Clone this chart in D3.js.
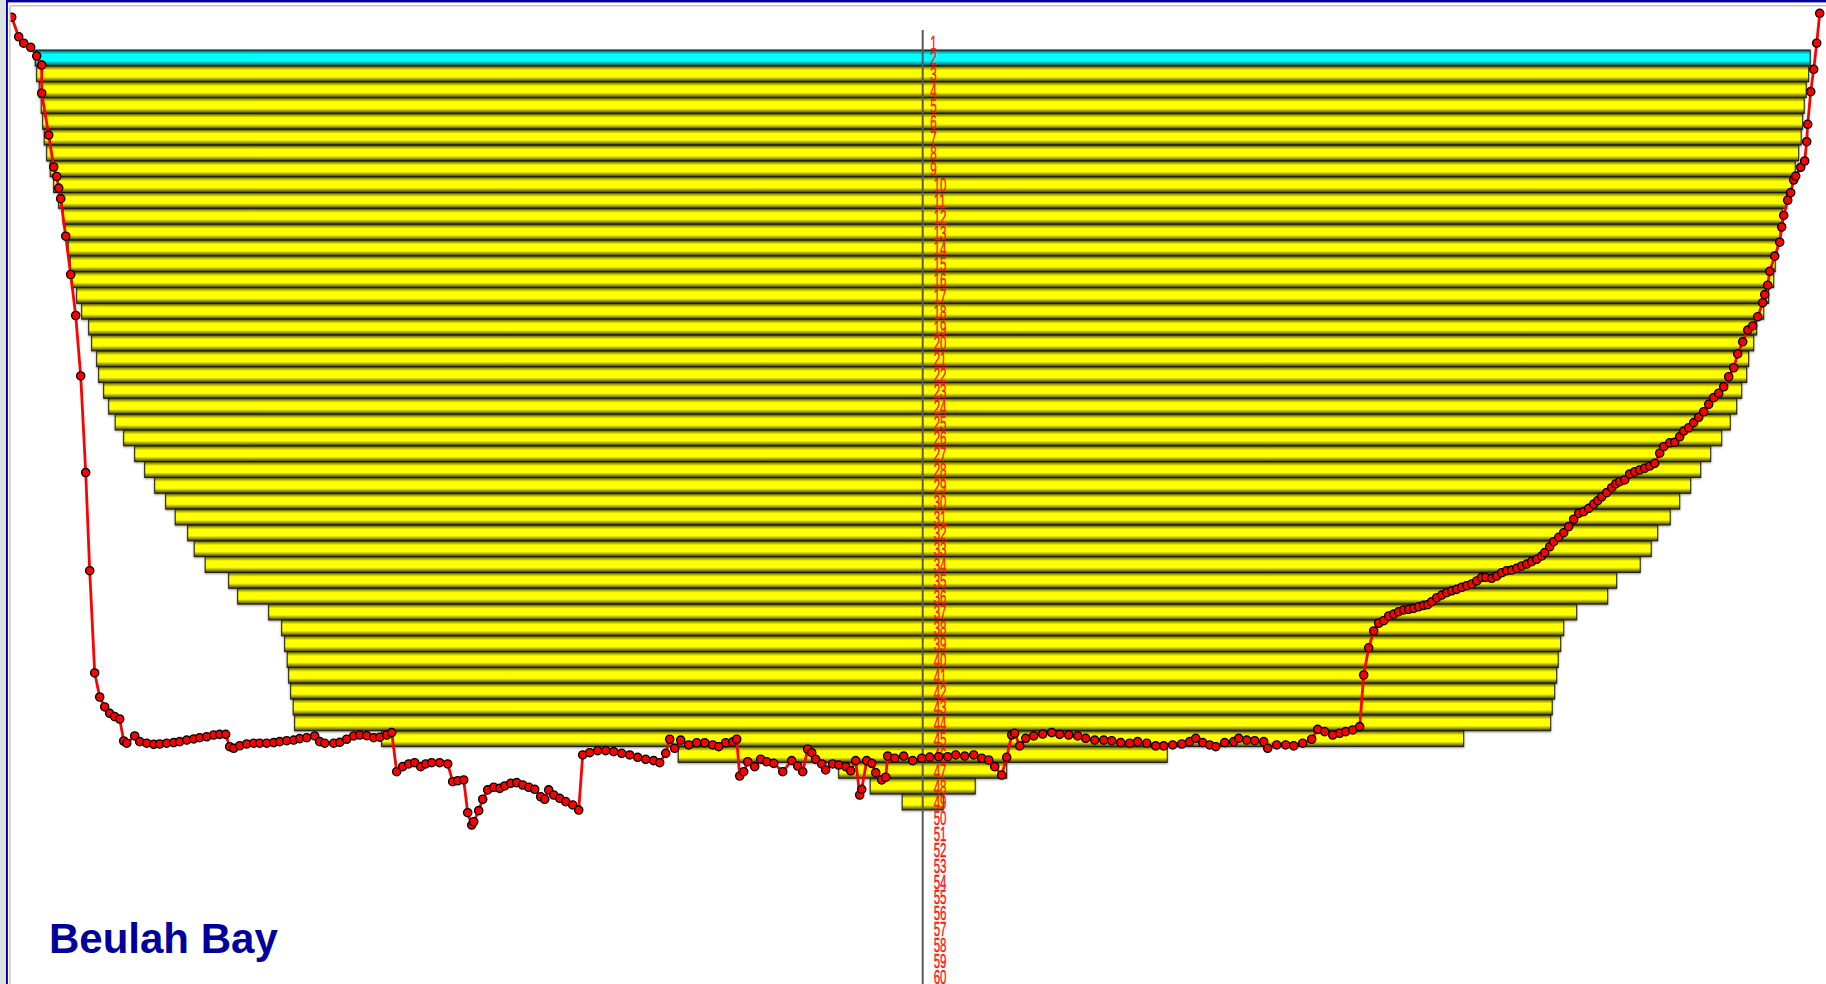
<!DOCTYPE html>
<html><head><meta charset="utf-8">
<script src="https://cdn.jsdelivr.net/npm/d3@7"></script>
<style>html,body{margin:0;padding:0;background:#fff;overflow:hidden}</style>
</head><body>
<svg id="c" width="1826" height="984"></svg>
<script>
// ---------- DATA ----------
const titleText = "Beulah Bay";
const layerLabels = d3.range(1, 61).map(String);          // layer tick labels 1..60
const barRows = d3.range(2, 50);                           // layers that carry a bar
const waterRows = [2];                                     // surface (cyan) layer
const barHalfWidths = [887.5,886,883.5,881.5,880,878.5,876,872.5,869,864,
  859.5,857.5,854.5,852.5,851,846,841,834,831,826,824,819,814,807.5,799,788,778,768,757,747.5,
  735,728.5,717.5,694,685,654,641,638,635.5,634,632,629.5,628,541,244.5,84,52.5,20.5];

const profileX = [-918,-911,-904,-899,-892,-886,-881,-881,-874,-869,-866,-864,-862,-857,-852,-847,-842,-837,-833,-828,-823,-818,-813,-808,-803,-799,-796,-788,
-783,-776,-769,-763,-756,-749,-743,-736,-729,-723,-716,-709,-703,-697,-693,-689,-683,-676,-669,-663,-656,-649,-643,-636,-629,-623,-616,-608,-603,-598,-589,-583,-576,-569,-563,-556,-549,-543,-536,-531,
-526,-520,-514,-508,-502,-497,-491,-483,-475,-470,-465,-459,-455,-451,-449,-444,-440,-435,-429,-423,-418,-412,-406,-400,-394,-388,-382,-378,-374,-369,-363,-357,-350,-344,
-340,-333,-325,-317,-309,-301,-293,-285,-277,-269,-263,-257,-253,-248,-242,-234,-226,-218,-210,-204,
-197,-190,-186,-183,-179,-175,-168,-162,-156,-149,-140,-131,-125,-120,-115,-111,-107,-101,-97,-90,-84,-77,-72,-67,-63,-61,-56,-51,-47,-41,-37,-35,-28,-19,-10,-1,7,16,25,33,42,51,59,66,72,79,84,89,92,97,103,111,120,129,137,146,155,163,172,181,189,198,207,215,224,233,241,250,259,267,273,280,287,293,302,311,316,324,332,341,345,354,363,371,380,389,395,402,410,417,423,430,437,
441,446,451,456,461,466,471,476,481,486,491,496,501,505,509,514,519,524,529,534,539,544,549,554,559,563,569,574,579,584,589,594,599,604,609,614,619,622,627,631,636,641,646,651,656,661,666,671,675,679,684,689,693,697,702,707,712,717,722,727,732,737,741,747,752,757,761,766,771,776,781,786,791,796,801,806,811,815,820,825,830,835,840,
842,845,847,852,857,859,861,865,868,871,873,878,882,884,885,888,891,894,897];

const profileDepth = [-1.84,-1.07,0.16,0.57,0.83,1.38,1.95,3.73,6.37,8.39,8.99,9.72,10.39,12.76,15.18,17.77,21.59,27.69,33.89,40.35,41.87,42.50,42.90,43.11,43.26,44.65,44.79,44.33,
44.69,44.79,44.86,44.84,44.79,44.75,44.69,44.59,44.52,44.44,44.38,44.27,44.23,44.23,45.01,45.11,44.95,44.84,44.79,44.79,44.79,44.75,44.69,44.63,44.59,44.50,44.44,44.33,44.69,44.79,44.79,44.73,44.54,44.33,44.27,44.31,44.44,44.41,44.27,44.12,
46.59,46.27,46.10,46.02,46.27,46.10,46.02,46.02,46.10,47.22,47.16,47.11,49.18,49.96,49.75,49.05,48.33,47.74,47.57,47.64,47.49,47.32,47.28,47.43,47.57,47.70,48.17,48.33,47.74,48.06,48.27,48.48,48.69,49.01,
45.53,45.39,45.26,45.26,45.32,45.43,45.53,45.68,45.81,45.89,46.02,45.43,44.54,45.11,44.59,44.90,44.76,44.76,44.90,45.01,
44.76,44.70,44.54,46.86,46.59,45.96,46.27,45.80,45.96,46.06,46.59,45.89,46.23,46.59,45.17,45.39,45.81,46.10,46.48,46.10,46.17,46.27,46.53,45.89,48.06,47.70,45.89,46.06,46.65,47.11,46.94,45.60,45.74,45.60,45.89,45.74,45.67,45.64,45.64,45.53,45.60,45.53,45.74,45.85,46.27,46.80,45.68,44.27,44.16,44.96,44.48,44.33,44.21,44.12,44.23,44.27,44.33,44.48,44.59,44.59,44.63,44.75,44.79,44.69,44.79,44.96,44.96,44.90,44.84,44.69,44.48,44.75,44.90,45.01,44.75,44.69,44.48,44.59,44.63,44.69,45.11,44.90,44.90,44.96,44.79,44.54,43.91,44.06,44.27,44.16,44.06,43.95,43.74,
40.48,38.76,37.70,37.21,37.05,36.75,36.63,36.48,36.37,36.33,36.27,36.17,36.08,36.04,35.85,35.60,35.43,35.28,35.16,35.07,34.94,34.84,34.73,34.54,34.31,34.31,34.37,34.23,34.02,33.89,33.85,33.74,33.59,33.47,33.32,33.17,32.96,32.75,32.38,32.06,31.78,31.49,31.11,30.64,30.27,30.16,29.95,29.68,29.47,29.22,28.96,28.65,28.41,28.27,28.16,27.78,27.64,27.53,27.42,27.28,27.11,26.47,26.06,25.81,25.78,25.43,25.07,24.86,24.54,24.20,23.85,23.38,22.96,22.68,22.27,21.64,21.07,20.20,19.43,18.69,18.43,17.85,16.96,
16.45,15.86,14.98,14.02,13.14,12.18,11.45,10.49,10.01,9.21,8.96,8.41,8.01,6.79,5.69,3.63,2.22,0.57,-1.32];

// ---------- CHART ----------
const W = 1826, H = 984, cx = 922.7;
const svg = d3.select("#c");
const x = d3.scaleLinear().domain([-900, 900]).range([cx - 900, cx + 900]);
const y = d3.scaleLinear().domain([0, 60]).range([34.2, 984]);

const defs = svg.append("defs");
function grad(id, edge, mid, core) {
  const g = defs.append("linearGradient").attr("id", id).attr("x1", 0).attr("y1", 0).attr("x2", 0).attr("y2", 1);
  [[0, edge], [0.12, mid], [0.28, core], [0.68, core], [0.84, mid], [1, edge]].forEach(s =>
    g.append("stop").attr("offset", s[0]).attr("stop-color", s[1]));
}
grad("gy", "#3a3a00", "#a0a000", "#ffff00");
grad("gc", "#004848", "#00a8a8", "#00ffff");
const f = defs.append("filter").attr("id", "sh").attr("x", "-5%").attr("y", "-50%").attr("width", "110%").attr("height", "200%");
f.append("feDropShadow").attr("dx", 0).attr("dy", 1).attr("stdDeviation", 1.3).attr("flood-color", "#404040").attr("flood-opacity", 0.55);
defs.append("clipPath").attr("id", "plot").append("rect").attr("x", 10.7).attr("y", 6.7).attr("width", W - 10.7).attr("height", H - 6.7);

// window background and frame
svg.append("rect").attr("x", 0).attr("y", 0).attr("width", 6).attr("height", H).attr("fill", "#dde3e3");
svg.append("rect").attr("x", 6).attr("y", 0).attr("width", 1.9).attr("height", H).attr("fill", "#0000a0");
svg.append("rect").attr("x", 6).attr("y", 0).attr("width", W - 6).attr("height", 2.4).attr("fill", "#0000a0");
svg.append("line").attr("x1", 9.9).attr("x2", 9.9).attr("y1", 5.8).attr("y2", H).attr("stroke", "#c4c4c4").attr("stroke-width", 1.5);
svg.append("line").attr("x1", 9.9).attr("x2", W).attr("y1", 5.8).attr("y2", 5.8).attr("stroke", "#c4c4c4").attr("stroke-width", 1.5);

const plot = svg.append("g").attr("clip-path", "url(#plot)");

// layer bars
const bars = barRows.map((r, i) => ({ row: r, hw: barHalfWidths[i] }));
plot.append("g").selectAll("rect").data(bars).join("rect")
  .attr("x", d => x(-d.hw)).attr("width", d => x(d.hw) - x(-d.hw))
  .attr("y", d => y(d.row - 1)).attr("height", d => y(d.row) - y(d.row - 1))
  .attr("fill", d => waterRows.includes(d.row) ? "url(#gc)" : "url(#gy)")
  .attr("stroke", "#1a1a1a").attr("stroke-width", 1)
  .attr("filter", "url(#sh)");

// centre axis
plot.append("line").attr("x1", x(0)).attr("x2", x(0)).attr("y1", 30).attr("y2", H)
  .attr("stroke", "#5a5a5a").attr("stroke-width", 2);

// layer labels (tall, narrow, slightly overlapping as in the original)
plot.append("g").selectAll("text").data(layerLabels).join("text")
  .attr("transform", (d, i) => `translate(${x(0) + (d.length > 1 ? 11 : 7.5)},${y(i + 0.5) + 7.5}) scale(0.55,1)`)
  .attr("font-family", "'Liberation Sans', Arial, sans-serif").attr("font-size", 21)
  .attr("fill", "#ff2020").attr("stroke", "#ff0000").attr("stroke-width", 0.4).text(d => d);

// profile
const pts = profileX.map((v, i) => [v, profileDepth[i]]);
plot.append("path").datum(pts)
  .attr("d", d3.line().x(d => x(d[0])).y(d => y(d[1])))
  .attr("fill", "none").attr("stroke", "#ff0000").attr("stroke-width", 2.8).attr("stroke-linejoin", "round");
plot.append("g").selectAll("circle").data(pts).join("circle")
  .attr("cx", d => x(d[0])).attr("cy", d => y(d[1])).attr("r", 4.1)
  .attr("fill", "#ff0000").attr("stroke", "#000").attr("stroke-width", 1.4);

// title
svg.append("text").attr("x", 49).attr("y", 952.5)
  .attr("font-family", "'Liberation Sans', Arial, sans-serif").attr("font-weight", "bold").attr("font-size", 42)
  .attr("fill", "#00009c").text(titleText);
</script>
</body></html>
